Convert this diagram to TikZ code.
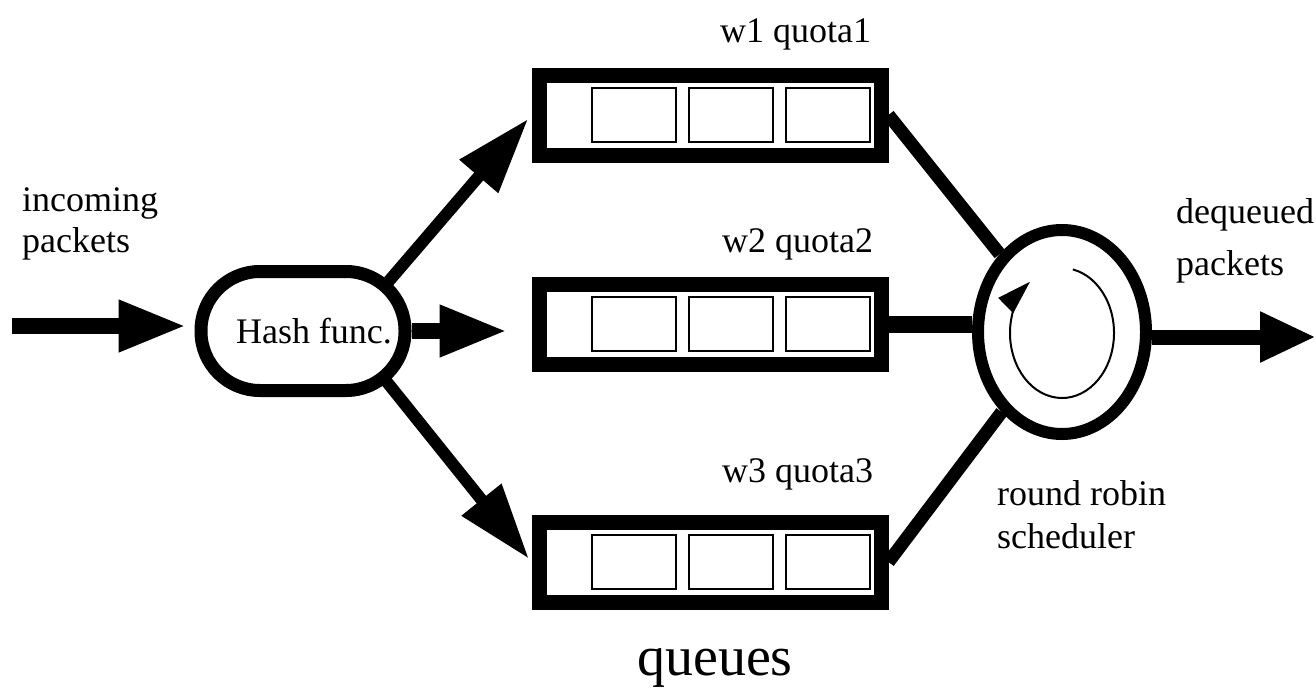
\documentclass[tikz,border=0pt]{standalone}
\usepackage{fontspec}
\setmainfont{Liberation Serif}
\usetikzlibrary{arrows.meta,shapes.geometric}
\begin{document}
\begin{tikzpicture}[x=1pt,y=-1pt,
  cola/.style={draw,line width=15pt,minimum width=342pt,minimum height=80pt,inner sep=0pt},
  celda/.style={line width=2.5pt},
  flecha/.style={line width=16pt,-{Triangle[length=68pt,width=48pt]}},
  diag/.style={line width=12pt,-{Triangle[length=76pt,width=48pt]}},
  linea/.style={line width=13pt},
  txt/.style={font=\fontsize{36}{41}\selectfont,inner sep=0pt,align=left}]
\useasboundingbox (0,0) rectangle (1316,693);
% Colas con sus celdas
\node[cola] (q1) at (710,115) {};
\node[cola] (q2) at (710,324) {};
\node[cola] (q3) at (710,562) {};
\foreach \q in {q1,q2,q3}
  \foreach \dx in {-76,21,118}
    \draw[celda] (\q.center) ++(\dx,0) +(-42,-27) rectangle +(42,27);
\node[txt,anchor=base west] (w1) at (720,42) {w1 quota1};
\node[txt,anchor=base west] (w2) at (722,252) {w2 quota2};
\node[txt,anchor=base west] (w3) at (722,482) {w3 quota3};
\node[txt,anchor=base west,font=\fontsize{56}{60}\selectfont] (cap) at (637,675) {queues};
% Funcion hash
\node[txt,draw,line width=13pt,rounded corners=59pt,minimum width=204pt,minimum height=119pt] (hash) at (303,331) {\hspace*{22pt}Hash func.};
\coordinate (ent) at (12,326);
\draw[flecha,shorten >=8pt] (ent) -- (ent -| hash.west);
\draw[flecha,shorten >=24pt] (hash.east) -- (hash.east -| q2.west);
\draw[diag,shorten <=60pt,shorten >=5pt] ([xshift=43pt]hash.center) -- (q1.west);
\draw[diag,shorten <=60pt,shorten >=4pt] ([xshift=43pt]hash.center) -- (q3.west);
\node[txt,anchor=north west] (inc) at (22,187) {incoming\\packets};
% Planificador round robin
\node[draw,ellipse,line width=12pt,minimum width=168pt,minimum height=204pt,inner sep=0pt] (rr) at (1062,332) {};
\draw[line width=2pt,-{Triangle[length=34pt,width=21pt]}] (rr.center) ++(0,1) ++(-78:52 and 65)
  arc[start angle=-78,end angle=232,x radius=52,y radius=65];
\draw[linea] (q1.east) -- (rr);
\draw[linea] (q3.east) -- (rr);
\draw[line width=17pt] (q2.east) -- (q2.east -| rr.west);
\coordinate (sal) at (1316,337);
\draw[flecha,line width=15pt,-{Triangle[length=56pt,width=47pt]}] (rr.east |- sal) -- (sal);
\node[txt,anchor=north west] (deq) at (1176,198) {dequeued\\[11pt]packets};
\node[txt,anchor=north west] (rrs) at (997,480) {round robin\\[2pt]scheduler};
\end{tikzpicture}
\end{document}
